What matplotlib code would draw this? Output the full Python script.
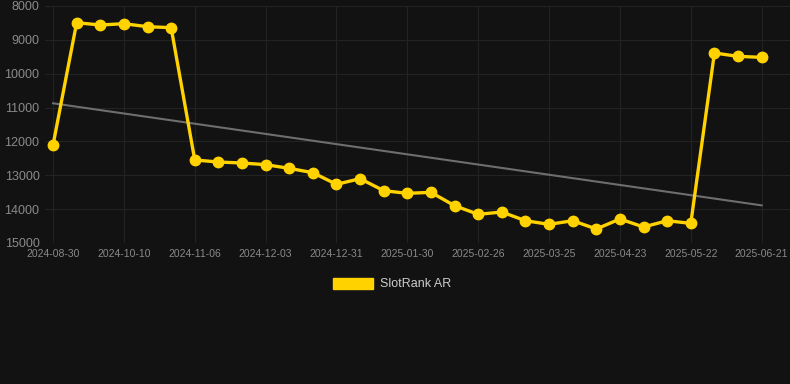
import numpy as np
import matplotlib; matplotlib.use('Agg')
import matplotlib.pyplot as plt
from matplotlib.patches import Patch
plt.rcParams['font.family'] = ['Liberation Sans', 'DejaVu Sans']

# SlotRank AR rank, one point per observation (category axis)
ranks = [12105, 8493, 8561, 8523, 8611, 8640, 12548, 12608, 12637, 12686, 12795,
         12923, 13267, 13100, 13455, 13533, 13504, 13898, 14153, 14085, 14342,
         14449, 14342, 14586, 14291, 14527, 14342, 14420, 9388, 9487, 9517]
tick_labels = ['2024-08-30', '2024-10-10', '2024-11-06', '2024-12-03', '2024-12-31',
               '2025-01-30', '2025-02-26', '2025-03-25', '2025-04-23', '2025-05-22', '2025-06-21']
yticks = [8000, 9000, 10000, 11000, 12000, 13000, 14000, 15000]

BG = '#121212'; GOLD = '#FFD200'; GRID = '#232323'; TXT = '#8a8a8a'
x = np.arange(len(ranks))
k, b = np.polyfit(x, ranks, 1)

fig = plt.figure(figsize=(7.9, 3.84), dpi=100, facecolor=BG)
ax = fig.add_axes([45/790, 1-243/384, 745/790, 237/384], facecolor=BG)
ax.plot(x, k*x+b, color='#6e6e6e', lw=1.5, zorder=2)
ax.plot(x, ranks, color=GOLD, lw=2.4, marker='o', ms=7.5, zorder=3)
ax.set_ylim(15000, 8000); ax.set_xlim(-0.34, 31.2)
ax.set_yticks(yticks); ax.set_yticklabels([str(v) for v in yticks], fontsize=9, color=TXT)
ax.set_xticks(x[::3]); ax.set_xticklabels(tick_labels, fontsize=7.5, color=TXT)
ax.tick_params(axis='both', length=0, pad=4)
ax.grid(True, color=GRID, lw=0.8)
for s in ax.spines.values(): s.set_visible(False)
fig.legend(handles=[Patch(color=GOLD, label='SlotRank AR')], loc='center',
           bbox_to_anchor=(392/790, 1-284/384), frameon=False, fontsize=9,
           handlelength=3.2, handleheight=1.0, handletextpad=0.6, labelcolor='#cccccc')
fig.savefig('out.png', dpi=100, facecolor=BG)
